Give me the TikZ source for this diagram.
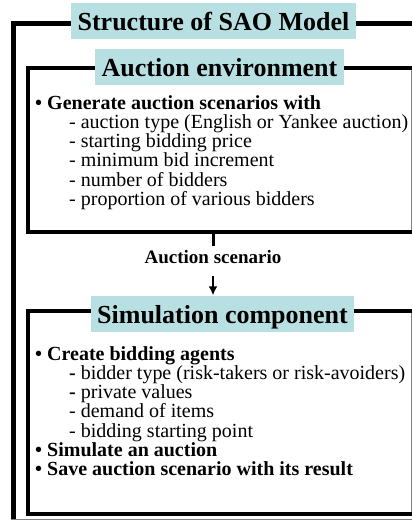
\documentclass[tikz,border=0pt]{standalone}
\usepackage{fontspec}
\setmainfont{Liberation Serif}
\usetikzlibrary{positioning,arrows.meta}
\definecolor{titlecyan}{HTML}{B8E0E3}
\begin{document}
\begin{tikzpicture}[x=1pt,y=-1pt,>={Latex[length=9pt,width=9pt]},line join=miter,
	frameline/.style={line width=4pt},
	shadeline/.style={draw=gray,line width=0.8pt},
	boxtitle/.style={fill=titlecyan,anchor=base,inner xsep=6.5pt,inner ysep=8.5pt,text height=19pt,text depth=0pt,font=\fontsize{26}{30}\selectfont\bfseries},
	itemtext/.style={anchor=base west,inner sep=0pt,font=\fontsize{20}{24}\selectfont}]
	\def\dy{19.3}
	\useasboundingbox (0,0) rectangle (412,523);
	% outer frame
	\draw[shadeline] (11,519) -- (412,519);
	\draw[line width=5pt] (414,23) -- (13.5,23) -- (13.5,519);
	% auction environment
	\draw[shadeline] (411,68) -- (411,232);
	\draw[frameline] (413,68) -- (27.5,68) -- (27.5,232) -- (413,232);
	% simulation component
	\draw[shadeline] (411,311) -- (411,514);
	\draw[frameline] (413,311) -- (27.5,311) -- (27.5,514) -- (413,514);
	% titles
	\node[boxtitle] (sao) at (213.5,30.5) {Structure of SAO Model};
	\node[boxtitle] (env) at (219.5,76) {Auction environment};
	\node[boxtitle] (sim) at (222.5,323) {Simulation component};
	% auction environment items
	\node[itemtext,font=\fontsize{20}{24}\selectfont\bfseries] (envhead) at (35,109) {• Generate auction scenarios with};
	\foreach \txt [count=\i] in {auction type (English or Yankee auction),starting bidding price,minimum bid increment,number of bidders,proportion of various bidders}
		\node[itemtext] (envitem\i) at (69,{109+\dy*\i}) {- \txt};
	% simulation items
	\node[itemtext,font=\fontsize{20}{24}\selectfont\bfseries] (simhead) at (35,360) {• Create bidding agents};
	\node[itemtext] (simitem1) at (69,{360+\dy}) {\textbf{-} bidder type (risk-takers or risk-avoiders)};
	\node[itemtext] (simitem2) at (69,{360+2*\dy}) {\textbf{-} private values};
	\node[itemtext] (simitem3) at (69,{360+3*\dy}) {- demand of items};
	\node[itemtext] (simitem4) at (69,{360+4*\dy}) {- bidding starting point};
	\node[itemtext,font=\fontsize{20}{24}\selectfont\bfseries] (simrun) at (35,{360+5*\dy}) {• Simulate an auction};
	\node[itemtext,font=\fontsize{20}{24}\selectfont\bfseries] (simsave) at (35,{360+6*\dy}) {• Save auction scenario with its result};
	% connector
	\coordinate (envbot) at (213,232);
	\node[anchor=base,font=\fontsize{19}{22}\selectfont\bfseries] (scen) at (213,263) {Auction scenario};
	\draw[line width=3pt] (envbot) -- (scen.north);
	\draw[->,line width=2.5pt,shorten <=9pt] (scen.south) -- (scen.south |- sim.north);
\end{tikzpicture}
\end{document}
